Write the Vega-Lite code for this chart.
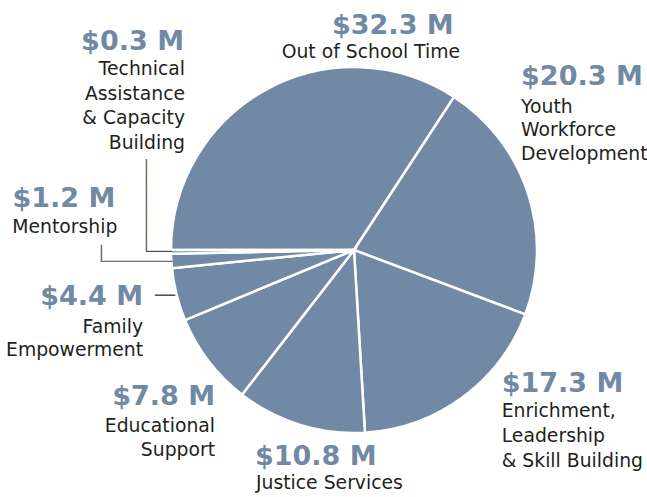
{
  "$schema": "https://vega.github.io/schema/vega-lite/v6.json",
  "width": 586,
  "height": 494,
  "autosize": "none",
  "padding": {"left": 61, "top": 3, "right": 0, "bottom": 0},
  "background": "white",
  "config": {"view": {"stroke": null}},
  "data": {
    "values": [
      {"key": "OST", "category": "Out of School Time", "value": 32.3, "order": 1, "amount": "$32.3 M", "name": ["Out of School Time"]},
      {"key": "YWD", "category": "Youth Workforce Development", "value": 20.3, "order": 2, "amount": "$20.3 M", "name": ["Youth", "Workforce", "Development"]},
      {"key": "ESB", "category": "Enrichment, Leadership & Skill Building", "value": 17.3, "order": 3, "amount": "$17.3 M", "name": ["Enrichment,", "Leadership", "& Skill Building"]},
      {"key": "JS", "category": "Justice Services", "value": 10.8, "order": 4, "amount": "$10.8 M", "name": ["Justice Services"]},
      {"key": "ES", "category": "Educational Support", "value": 7.8, "order": 5, "amount": "$7.8 M", "name": ["Educational", "Support"]},
      {"key": "FE", "category": "Family Empowerment", "value": 4.4, "order": 6, "amount": "$4.4 M", "name": ["Family", "Empowerment"]},
      {"key": "M", "category": "Mentorship", "value": 1.2, "order": 7, "amount": "$1.2 M", "name": ["Mentorship"]},
      {"key": "TA", "category": "Technical Assistance & Capacity Building", "value": 0.3, "order": 8, "amount": "$0.3 M", "name": ["Technical", "Assistance", "& Capacity", "Building"]}
    ]
  },
  "encoding": {
    "theta": {"field": "value", "type": "quantitative", "stack": true, "scale": {"range": [-1.5707963, 4.7123890], "nice": false, "zero": true}},
    "order": {"field": "order", "type": "quantitative"}
  },
  "layer": [
    {"mark": {"type": "arc", "outerRadius": 183, "fill": "#7189a5", "stroke": "white", "strokeWidth": 2.5}},

    {"mark": {"type": "text", "radius": 200, "align": "center", "baseline": "alphabetic", "dx": 134, "dy": -40, "font": "DejaVu Sans", "fontSize": 27, "fontWeight": "bold", "fill": "#7189a5"},
     "encoding": {"text": {"condition": {"test": "datum.key === 'OST'", "field": "amount", "type": "nominal"}, "value": ""}}},
    {"mark": {"type": "text", "radius": 200, "align": "left", "baseline": "alphabetic", "dx": -23, "dy": -103, "font": "DejaVu Sans", "fontSize": 27, "fontWeight": "bold", "fill": "#7189a5"},
     "encoding": {"text": {"condition": {"test": "datum.key === 'YWD'", "field": "amount", "type": "nominal"}, "value": ""}}},
    {"mark": {"type": "text", "radius": 200, "align": "left", "baseline": "alphabetic", "dx": 29, "dy": -19, "font": "DejaVu Sans", "fontSize": 27, "fontWeight": "bold", "fill": "#7189a5"},
     "encoding": {"text": {"condition": {"test": "datum.key === 'ESB'", "field": "amount", "type": "nominal"}, "value": ""}}},
    {"mark": {"type": "text", "radius": 200, "align": "left", "baseline": "alphabetic", "dx": -40, "dy": 24, "font": "DejaVu Sans", "fontSize": 27, "fontWeight": "bold", "fill": "#7189a5"},
     "encoding": {"text": {"condition": {"test": "datum.key === 'JS'", "field": "amount", "type": "nominal"}, "value": ""}}},
    {"mark": {"type": "text", "radius": 200, "align": "right", "baseline": "alphabetic", "dx": 20, "dy": 34, "font": "DejaVu Sans", "fontSize": 27, "fontWeight": "bold", "fill": "#7189a5"},
     "encoding": {"text": {"condition": {"test": "datum.key === 'ES'", "field": "amount", "type": "nominal"}, "value": ""}}},
    {"mark": {"type": "text", "radius": 200, "align": "right", "baseline": "alphabetic", "dx": -17, "dy": 6, "font": "DejaVu Sans", "fontSize": 27, "fontWeight": "bold", "fill": "#7189a5"},
     "encoding": {"text": {"condition": {"test": "datum.key === 'FE'", "field": "amount", "type": "nominal"}, "value": ""}}},
    {"mark": {"type": "text", "radius": 200, "align": "right", "baseline": "alphabetic", "dx": -39, "dy": -55, "font": "DejaVu Sans", "fontSize": 27, "fontWeight": "bold", "fill": "#7189a5"},
     "encoding": {"text": {"condition": {"test": "datum.key === 'M'", "field": "amount", "type": "nominal"}, "value": ""}}},
    {"mark": {"type": "text", "radius": 200, "align": "right", "baseline": "alphabetic", "dx": 30, "dy": -202, "font": "DejaVu Sans", "fontSize": 27, "fontWeight": "bold", "fill": "#7189a5"},
     "encoding": {"text": {"condition": {"test": "datum.key === 'TA'", "field": "amount", "type": "nominal"}, "value": ""}}},

    {"mark": {"type": "text", "radius": 200, "align": "center", "baseline": "alphabetic", "dx": 112, "dy": -16, "font": "DejaVu Sans", "fontSize": 18.8, "lineHeight": 24.5, "fill": "#231f20"},
     "encoding": {"text": {"condition": {"test": "datum.key === 'OST'", "field": "name", "type": "nominal"}, "value": ""}}},
    {"mark": {"type": "text", "radius": 200, "align": "left", "baseline": "alphabetic", "dx": -23, "dy": -75, "font": "DejaVu Sans", "fontSize": 18.8, "lineHeight": 23.5, "fill": "#231f20"},
     "encoding": {"text": {"condition": {"test": "datum.key === 'YWD'", "field": "name", "type": "nominal"}, "value": ""}}},
    {"mark": {"type": "text", "radius": 200, "align": "left", "baseline": "alphabetic", "dx": 29, "dy": 6, "font": "DejaVu Sans", "fontSize": 18.8, "lineHeight": 25, "fill": "#231f20"},
     "encoding": {"text": {"condition": {"test": "datum.key === 'ESB'", "field": "name", "type": "nominal"}, "value": ""}}},
    {"mark": {"type": "text", "radius": 200, "align": "left", "baseline": "alphabetic", "dx": -39, "dy": 48, "font": "DejaVu Sans", "fontSize": 18.8, "lineHeight": 24.5, "fill": "#231f20"},
     "encoding": {"text": {"condition": {"test": "datum.key === 'JS'", "field": "name", "type": "nominal"}, "value": ""}}},
    {"mark": {"type": "text", "radius": 200, "align": "right", "baseline": "alphabetic", "dx": 20, "dy": 61, "font": "DejaVu Sans", "fontSize": 18.8, "lineHeight": 23.5, "fill": "#231f20"},
     "encoding": {"text": {"condition": {"test": "datum.key === 'ES'", "field": "name", "type": "nominal"}, "value": ""}}},
    {"mark": {"type": "text", "radius": 200, "align": "right", "baseline": "alphabetic", "dx": -17, "dy": 34, "font": "DejaVu Sans", "fontSize": 18.8, "lineHeight": 23.5, "fill": "#231f20"},
     "encoding": {"text": {"condition": {"test": "datum.key === 'FE'", "field": "name", "type": "nominal"}, "value": ""}}},
    {"mark": {"type": "text", "radius": 200, "align": "right", "baseline": "alphabetic", "dx": -37, "dy": -29, "font": "DejaVu Sans", "fontSize": 18.8, "lineHeight": 24.5, "fill": "#231f20"},
     "encoding": {"text": {"condition": {"test": "datum.key === 'M'", "field": "name", "type": "nominal"}, "value": ""}}},
    {"mark": {"type": "text", "radius": 200, "align": "right", "baseline": "alphabetic", "dx": 31, "dy": -177, "font": "DejaVu Sans", "fontSize": 18.8, "lineHeight": 24.7, "fill": "#231f20"},
     "encoding": {"text": {"condition": {"test": "datum.key === 'TA'", "field": "name", "type": "nominal"}, "value": ""}}},

    {"mark": {"type": "text", "radius": 200, "align": "left", "baseline": "middle", "dx": -7, "dy": 0, "font": "DejaVu Sans", "fontSize": 14, "fill": "#505050"},
     "encoding": {"text": {"condition": {"test": "datum.key === 'TA'", "value": "───"}, "value": ""}}},
    {"mark": {"type": "text", "radius": 200, "angle": 270, "align": "left", "baseline": "middle", "dx": 0, "dy": -7, "font": "DejaVu Sans", "fontSize": 14, "fill": "#505050"},
     "encoding": {"text": {"condition": {"test": "datum.key === 'TA'", "value": "───────────"}, "value": ""}}},
    {"mark": {"type": "text", "radius": 200, "align": "left", "baseline": "middle", "dx": -52, "dy": 0, "font": "DejaVu Sans", "fontSize": 14.5, "fill": "#505050"},
     "encoding": {"text": {"condition": {"test": "datum.key === 'M'", "value": "────────"}, "value": ""}}},
    {"mark": {"type": "text", "radius": 200, "angle": 270, "align": "left", "baseline": "middle", "dx": 0, "dy": -52, "font": "DejaVu Sans", "fontSize": 14, "fill": "#505050"},
     "encoding": {"text": {"condition": {"test": "datum.key === 'M'", "value": "──"}, "value": ""}}},
    {"mark": {"type": "text", "radius": 200, "align": "left", "baseline": "middle", "dx": -5, "dy": -3, "font": "DejaVu Sans", "fontSize": 16.6, "fill": "#505050"},
     "encoding": {"text": {"condition": {"test": "datum.key === 'FE'", "value": "──"}, "value": ""}}}
  ]
}
